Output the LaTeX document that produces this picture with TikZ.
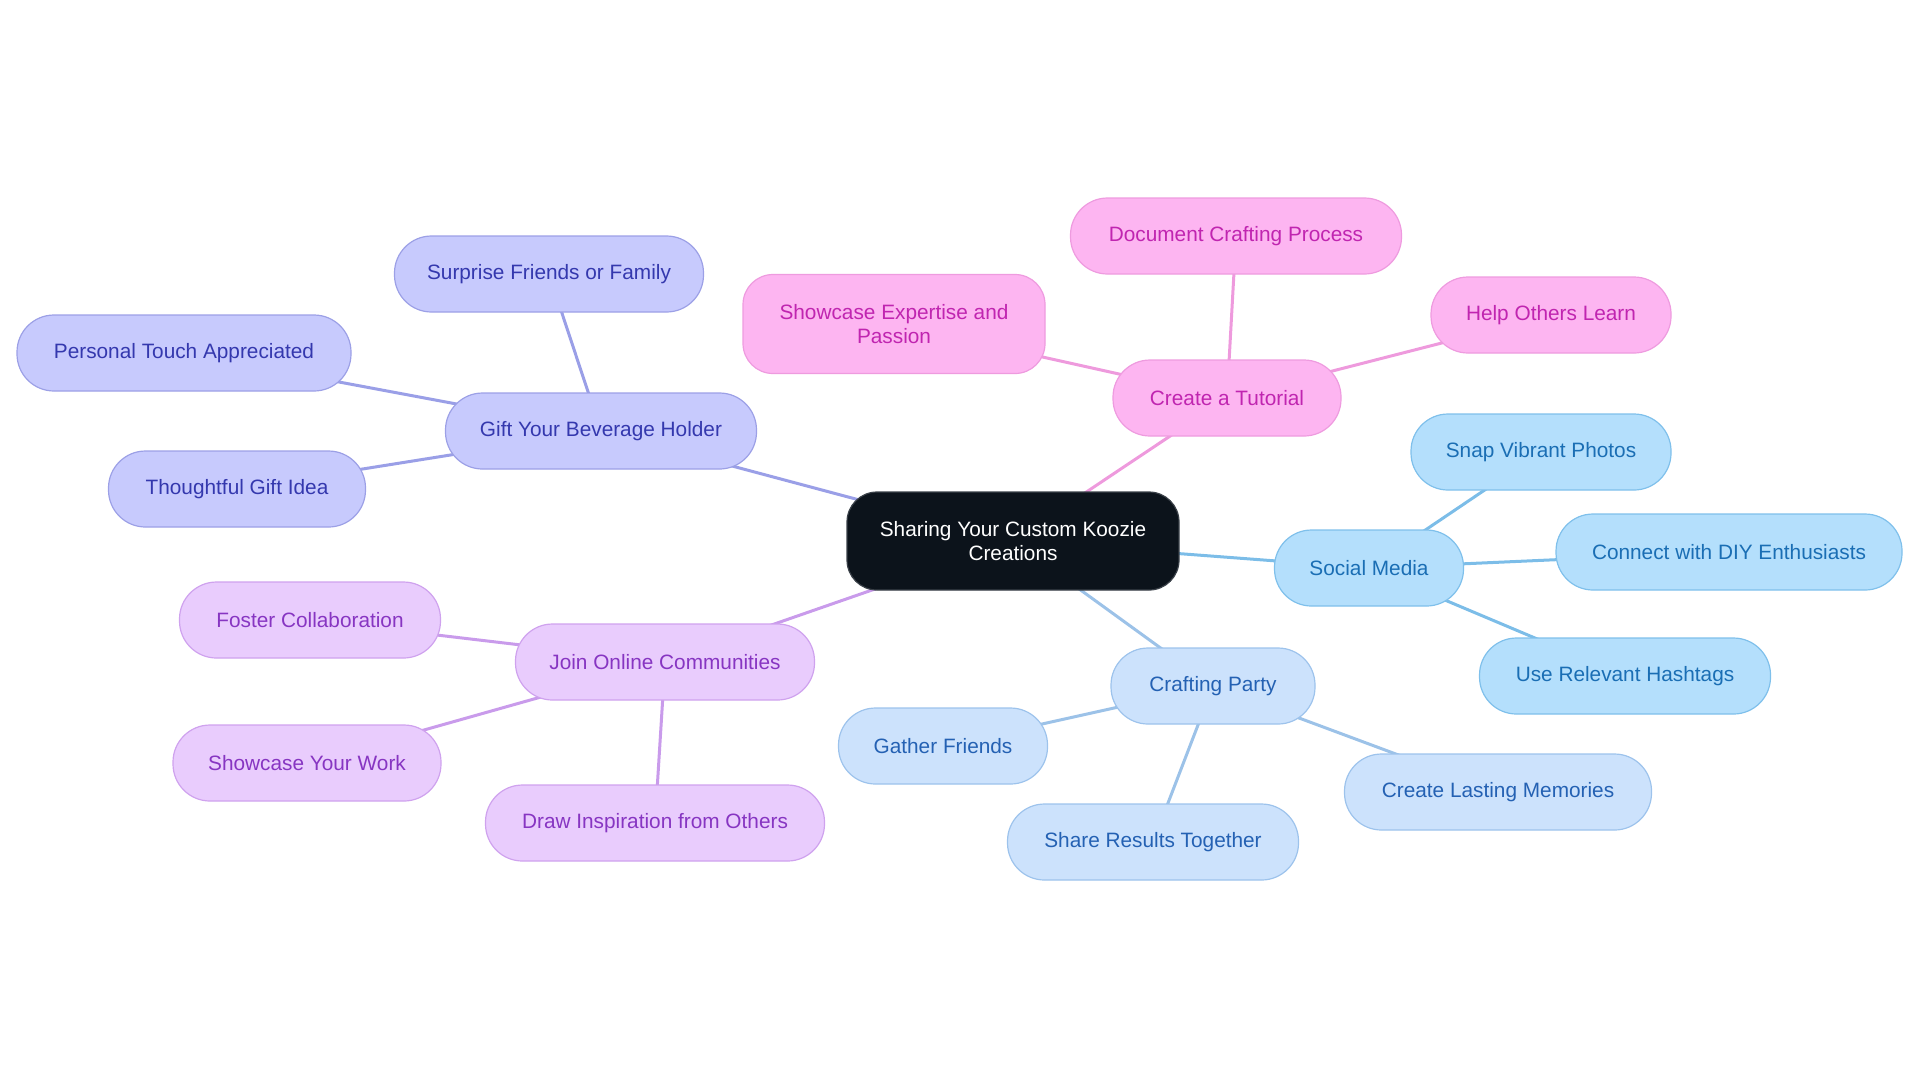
\documentclass[tikz,border=0pt]{standalone}
\usepackage{fontspec}
\setmainfont{Liberation Sans}
\usetikzlibrary{backgrounds}
\definecolor{cdark}{HTML}{0C131B}
\definecolor{cdarkb}{HTML}{3A4048}
\definecolor{ifill}{HTML}{C7CAFD}\definecolor{ibord}{HTML}{9CA0E6}\definecolor{itext}{HTML}{3438AE}\definecolor{iedge}{HTML}{9A9FE7}
\definecolor{pfill}{HTML}{FDB5F1}\definecolor{pbord}{HTML}{EE9BDF}\definecolor{ptext}{HTML}{C025B0}\definecolor{pedge}{HTML}{EE9ADD}
\definecolor{sfill}{HTML}{B4DFFC}\definecolor{sbord}{HTML}{7FC0EB}\definecolor{stext}{HTML}{1A6EB4}\definecolor{sedge}{HTML}{7CBDE8}
\definecolor{bfill}{HTML}{CCE2FC}\definecolor{bbord}{HTML}{9DC3EC}\definecolor{btext}{HTML}{2461B3}\definecolor{bedge}{HTML}{9CC2E8}
\definecolor{vfill}{HTML}{E9CCFD}\definecolor{vbord}{HTML}{CFA2EE}\definecolor{vtext}{HTML}{8735C2}\definecolor{vedge}{HTML}{C99BEB}
\tikzset{
  pill/.style={rounded corners=18.5pt, minimum height=38pt, inner xsep=4pt, inner ysep=2pt, align=center, font=\fontsize{10.4}{11.8}\selectfont, line width=0.6pt},
  indigo/.style={pill, fill=ifill, draw=ibord, text=itext},
  pink/.style={pill, fill=pfill, draw=pbord, text=ptext},
  sky/.style={pill, fill=sfill, draw=sbord, text=stext},
  lblue/.style={pill, fill=bfill, draw=bbord, text=btext},
  violet/.style={pill, fill=vfill, draw=vbord, text=vtext},
  conn/.style={line width=1.5pt},
}
\begin{document}
\begin{tikzpicture}[x=0.5pt,y=-0.5pt]
\useasboundingbox (0,0) rectangle (1920,1083);
\node[pill, rounded corners=15pt, fill=cdark, draw=cdarkb, text=white, minimum width=166pt, minimum height=49pt] (root) at (1013,541) {Sharing Your Custom Koozie\\Creations};

\node[indigo, minimum width=155.5pt] (gift) at (601,431) {Gift Your Beverage Holder};
\node[indigo, minimum width=154.5pt] (surp) at (549,274) {Surprise Friends or Family};
\node[indigo, minimum width=167pt] (pers) at (184,353) {Personal Touch Appreciated};
\node[indigo, minimum width=128.5pt] (thou) at (237,489) {Thoughtful Gift Idea};

\node[pink, minimum width=114pt] (tut) at (1227,398) {Create a Tutorial};
\node[pink, minimum width=165.5pt] (doc) at (1236,236) {Document Crafting Process};
\node[pink, minimum width=151pt, minimum height=49.5pt, rounded corners=15pt] (show) at (894,324) {Showcase Expertise and\\Passion};
\node[pink, minimum width=120pt] (help) at (1551,315) {Help Others Learn};

\node[sky, minimum width=94.5pt] (soc) at (1369,568) {Social Media};
\node[sky, minimum width=130pt] (snap) at (1541,452) {Snap Vibrant Photos};
\node[sky, minimum width=173pt] (diy) at (1729,552) {Connect with DIY Enthusiasts};
\node[sky, minimum width=145.5pt] (hash) at (1625,676) {Use Relevant Hashtags};

\node[lblue, minimum width=102pt] (party) at (1213,686) {Crafting Party};
\node[lblue, minimum width=104.5pt] (gath) at (943,746) {Gather Friends};
\node[lblue, minimum width=145.5pt] (share) at (1153,842) {Share Results Together};
\node[lblue, minimum width=153.5pt] (mem) at (1498,792) {Create Lasting Memories};

\node[violet, minimum width=149.5pt] (join) at (665,662) {Join Online Communities};
\node[violet, minimum width=130.5pt] (fost) at (310,620) {Foster Collaboration};
\node[violet, minimum width=134pt] (work) at (307,763) {Showcase Your Work};
\node[violet, minimum width=169.5pt] (draw) at (655,823) {Draw Inspiration from Others};

\begin{scope}[on background layer]
\draw[conn, iedge] (root.center) -- (gift.center);
\draw[conn, iedge] (gift.center) -- (surp.center);
\draw[conn, iedge] (gift.center) -- (pers.center);
\draw[conn, iedge] (gift.center) -- (thou.center);
\draw[conn, pedge] (root.center) -- (tut.center);
\draw[conn, pedge] (tut.center) -- (doc.center);
\draw[conn, pedge] (tut.center) -- (show.center);
\draw[conn, pedge] (tut.center) -- (help.center);
\draw[conn, sedge] (root.center) -- (soc.center);
\draw[conn, sedge] (soc.center) -- (snap.center);
\draw[conn, sedge] (soc.center) -- (diy.center);
\draw[conn, sedge] (soc.center) -- (hash.center);
\draw[conn, bedge] (root.center) -- (party.center);
\draw[conn, bedge] (party.center) -- (gath.center);
\draw[conn, bedge] (party.center) -- (share.center);
\draw[conn, bedge] (party.center) -- (mem.center);
\draw[conn, vedge] (root.center) -- (join.center);
\draw[conn, vedge] (join.center) -- (fost.center);
\draw[conn, vedge] (join.center) -- (work.center);
\draw[conn, vedge] (join.center) -- (draw.center);
\end{scope}
\end{tikzpicture}
\end{document}
